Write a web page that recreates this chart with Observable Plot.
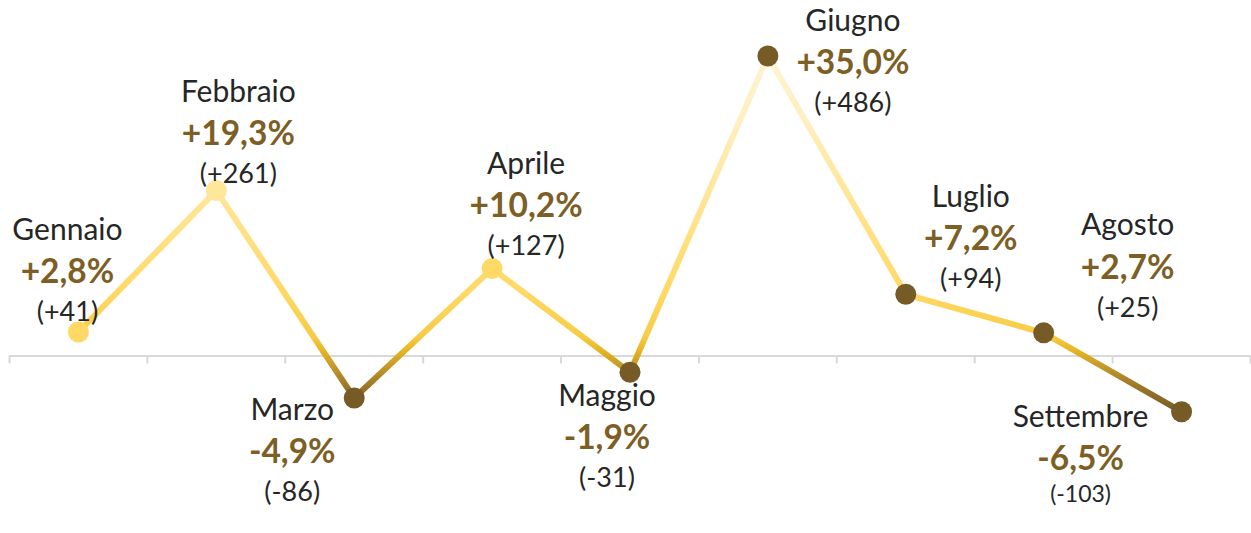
<!DOCTYPE html>
<html>
<head>
<meta charset="utf-8">
<script src="https://cdn.jsdelivr.net/npm/d3@7"></script>
<script src="https://cdn.jsdelivr.net/npm/@observablehq/plot@0.6"></script>
<style>
  html, body { margin: 0; padding: 0; background: #ffffff; }
  #chart svg { display: block; }
</style>
</head>
<body>
<div id="chart"></div>
<script>
// ---- data ----
const months = ["Gennaio", "Febbraio", "Marzo", "Aprile", "Maggio", "Giugno", "Luglio", "Agosto", "Settembre"];
const pctChange = [2.8, 19.3, -4.9, 10.2, -1.9, 35.0, 7.2, 2.7, -6.5];
const absChange = [41, 261, -86, 127, -31, 486, 94, 25, -103];

// ---- styling / layout (kept separate from data) ----
const pointFill = ["#FFD966", "#FFE699", "#765B27", "#FFD966", "#765B27", "#765B27", "#765B27", "#765B27", "#765B27"];
// [dx, dy of the month name] relative to the point, per label
const labelPlacement = [[-11, -102], [22, -98], [-62, 12], [34, -104], [-23, 24], [85, -35], [65, -97], [84, -107], [-101, 6]];

const rows = months.map((m, i) => ({i, month: m, pct: pctChange[i], abs: absChange[i]}));
const fmtPct = v => (v > 0 ? "+" : v < 0 ? "-" : "") + Math.abs(v).toFixed(1).replace(".", ",") + "%";
const fmtAbs = v => "(" + (v > 0 ? "+" : "") + v + ")";

const font = "Lato, 'Noto Sans', sans-serif";
const textMarks = [];
rows.forEach((r, i) => {
  const [dx, dy] = labelPlacement[i];
  const small = r.month === "Settembre";
  textMarks.push(Plot.text([r], {x: "i", y: "pct", text: d => d.month, dx, dy, fontSize: 30, fill: "#262626", fontFamily: font}));
  textMarks.push(Plot.text([r], {x: "i", y: "pct", text: d => fmtPct(d.pct), dx, dy: dy + 42, fontSize: 33.5, fontWeight: "bold", fill: "#7D5F26", fontFamily: font}));
  textMarks.push(Plot.text([r], {x: "i", y: "pct", text: d => fmtAbs(d.abs), dx, dy: dy + (small ? 77 : 82), fontSize: small ? 23 : 27, fill: "#262626", fontFamily: font}));
});

const boundaries = d3.range(months.length + 1).map(k => k - 0.5);

const chart = Plot.plot({
  width: 1251,
  height: 533,
  marginLeft: 9, marginRight: 1, marginTop: 0, marginBottom: 0,
  x: {domain: [-0.5, months.length - 0.5], axis: null},
  y: {domain: [-20.71, 41.48], axis: null},
  color: {type: "identity"},
  marks: [
    Plot.ruleY([0], {stroke: "#D9D9D9", strokeWidth: 2}),
    Plot.ruleX(boundaries, {y1: 0, y2: 0, insetBottom: -8, stroke: "#D9D9D9", strokeWidth: 2}),
    Plot.line(rows, {x: "i", y: "pct", stroke: "url(#lineGrad)", strokeWidth: 6, strokeLinejoin: "round"}),
    Plot.dot(rows, {x: "i", y: "pct", r: 10.5, fill: d => pointFill[d.i], stroke: "none"}),
    ...textMarks
  ]
});

// vertical gradient positioned with the y scale
const ys = chart.scale("y");
const yTop = ys.apply(d3.max(pctChange));
const yBot = ys.apply(d3.min(pctChange));
const stops = [[0, "#FFF4D2"], [0.18, "#FFEFC0"], [0.38, "#FFE699"], [0.66, "#FFD966"], [0.79, "#F6CB45"], [0.83, "#E5B422"], [0.87, "#C79A2A"], [0.93, "#9A7628"], [1, "#765B27"]];
const ns = "http://www.w3.org/2000/svg";
const defs = document.createElementNS(ns, "defs");
const grad = document.createElementNS(ns, "linearGradient");
grad.setAttribute("id", "lineGrad");
grad.setAttribute("gradientUnits", "userSpaceOnUse");
grad.setAttribute("x1", 0); grad.setAttribute("x2", 0);
grad.setAttribute("y1", yTop); grad.setAttribute("y2", yBot);
stops.forEach(([o, c]) => {
  const s = document.createElementNS(ns, "stop");
  s.setAttribute("offset", o);
  s.setAttribute("stop-color", c);
  grad.appendChild(s);
});
defs.appendChild(grad);
chart.insertBefore(defs, chart.firstChild);

document.getElementById("chart").appendChild(chart);
</script>
</body>
</html>
